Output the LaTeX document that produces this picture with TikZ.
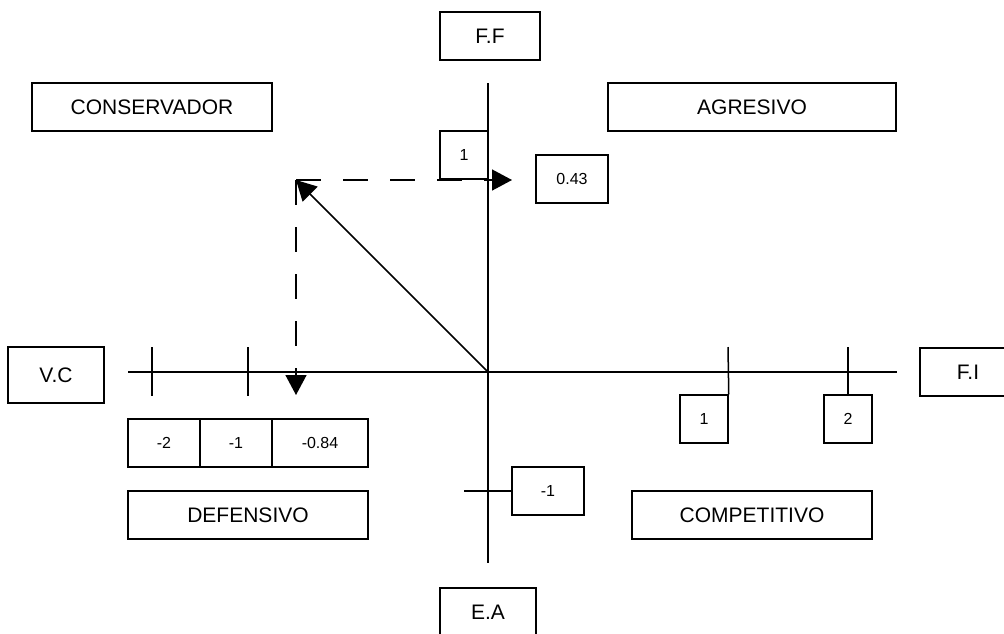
\documentclass[tikz,border=0pt]{standalone}
\usepackage{fontspec}
\setmainfont{Liberation Sans}
\usetikzlibrary{arrows.meta}

\begin{document}
\begin{tikzpicture}[x=1pt, y=-1pt,
    bigbox/.style={rectangle, draw, line width=1.5pt, inner sep=0pt, minimum height=48pt,
      font=\fontsize{21}{24}\selectfont},
    valbox/.style={rectangle, draw, line width=1.5pt, inner sep=0pt, minimum height=48pt,
      font=\fontsize{16}{18}\selectfont},
    axisline/.style={line width=1.5pt},
    dashline/.style={line width=1.5pt, dash pattern=on 25pt off 22pt},
    headtip/.style={-{Triangle[length=20pt, width=21pt]}}
  ]
    \useasboundingbox (0,0) rectangle (1004,633);

    % Axis end points
    \coordinate (top)    at (488,83);
    \coordinate (bottom) at (488,563);
    \coordinate (left)   at (128,372);
    \coordinate (right)  at (897,372);
    \coordinate (origin) at (488,372);
    \coordinate (point)  at (296,180);
    \coordinate (tipR)   at (512,180);
    \coordinate (tipD)   at (296,395);

    % Axis names
    \node[bigbox, minimum width=100pt] (ff) at (490,36)  {F.F};
    \node[bigbox, minimum width=96pt]  (ea) at (488,612) {E.A};
    \node[bigbox, minimum width=96pt, minimum height=56pt] (vc) at (56,375) {V.C};
    \node[bigbox, minimum width=96pt]  (fi) at (968,372) {F.I};

    % Quadrant boxes
    \node[bigbox, minimum width=240pt] (cons) at (152,107) {CONSERVADOR};
    \node[bigbox, minimum width=288pt] (agr)  at (752,107) {AGRESIVO};
    \node[bigbox, minimum width=240pt] (def)  at (248,515) {DEFENSIVO};
    \node[bigbox, minimum width=240pt] (comp) at (752,515) {COMPETITIVO};

    % Value boxes
    \node[valbox, minimum width=48pt] (ffone) at (464,155) {1};
    \node[valbox, minimum width=72pt] (ffval) at (572,179) {0.43};
    \node[valbox, minimum width=72pt] (vctwo) at (164,443) {-2};
    \node[valbox, minimum width=72pt] (vcone) at (236,443) {-1};
    \node[valbox, minimum width=96pt] (vcval) at (320,443) {-0.84};
    \node[valbox, minimum width=48pt] (fione) at (704,419) {1};
    \node[valbox, minimum width=48pt] (fitwo) at (848,419) {2};
    \node[valbox, minimum width=72pt] (eaone) at (548,491) {-1};

    % Axes and ticks
    \draw[axisline] (top) -- (bottom);
    \draw[axisline] (left) -- (right);
    \draw[axisline] (152,347) -- (152,396);
    \draw[axisline] (248,347) -- (248,396);
    \draw[axisline] (728,347) -- (fione.north east);
    \draw[axisline] (848,347) -- (fitwo.north);
    \draw[axisline] (464,491) -- (eaone.west);

    % Result vector and projections
    \draw[axisline, headtip] (origin) -- (point);
    \draw[dashline, headtip] (point) -- (tipR);
    \draw[dashline, headtip] (point) -- (tipD);
\end{tikzpicture}
\end{document}
